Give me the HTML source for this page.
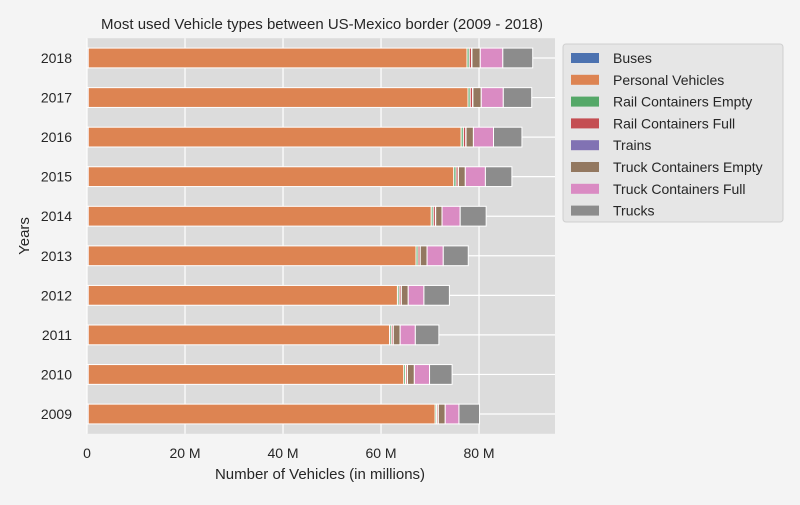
<!DOCTYPE html>
<html><head><meta charset="utf-8"><style>
body{margin:0;background:#f4f4f4;font-family:"Liberation Sans",sans-serif;}
svg text{font-family:"Liberation Sans",sans-serif;fill:#262626;}
</style></head><body>
<svg id="chart" width="800" height="500" xmlns="http://www.w3.org/2000/svg">
<rect width="800" height="500" fill="#f4f4f4"/>
<text x="322" y="29" font-size="15" text-anchor="middle">Most used Vehicle types between US-Mexico border (2009 - 2018)</text>
<g id="plot"></g>
<text x="320" y="479" font-size="15" text-anchor="middle">Number of Vehicles (in millions)</text>
<text transform="translate(29,236) rotate(-90)" font-size="15" text-anchor="middle">Years</text>
<g id="legend"></g>
</svg>
<script>
const years=["2009","2010","2011","2012","2013","2014","2015","2016","2017","2018"];
const seriesNames=["Buses","Personal Vehicles","Rail Containers Empty","Rail Containers Full","Trains","Truck Containers Empty","Truck Containers Full","Trucks"];
const colors=["#4c72b0","#dd8452","#55a868","#c44e52","#8172b3","#937860","#da8bc3","#8c8c8c"];
const buses=[0.25,0.25,0.25,0.25,0.25,0.25,0.25,0.25,0.25,0.25];
const personal=[70.8,64.4,61.5,63.1,66.9,70.0,74.6,76.1,77.5,77.3];
const railEmpty=[0.3,0.35,0.35,0.35,0.4,0.4,0.45,0.45,0.45,0.45];
const railFull=[0.3,0.35,0.35,0.4,0.4,0.45,0.45,0.5,0.5,0.5];
const trains=[0.05,0.05,0.05,0.05,0.05,0.05,0.05,0.05,0.05,0.05];
const truckEmpty=[1.4,1.4,1.4,1.4,1.4,1.3,1.4,1.5,1.7,1.7];
const truckFull=[2.8,3.1,3.1,3.2,3.3,3.7,4.1,4.1,4.5,4.6];
const trucks=[4.2,4.6,4.8,5.2,5.1,5.3,5.4,5.8,5.8,6.1];
const xTicks=[0,20,40,60,80];
const xTickLabels=["0","20 M","40 M","60 M","80 M"];
const series=[buses,personal,railEmpty,railFull,trains,truckEmpty,truckFull,trucks];

const NS="http://www.w3.org/2000/svg";
const L=87,R=555,T=38.2,B=433.8,XMAX=95.5;
const xs=v=>L+v/XMAX*(R-L);
const band=(B-T)/years.length;
const yc=i=>B-band*(i+0.5);
function mk(tag,attrs,parent){const e=document.createElementNS(NS,tag);for(const k in attrs)e.setAttribute(k,attrs[k]);parent.appendChild(e);return e;}
const plot=document.getElementById('plot');
const bg=mk('rect',{x:L,y:T,width:R-L,height:B-T,fill:'#dcdcdc'},plot);


xTicks.forEach((t,i)=>{
  const g=mk('line',{x1:xs(t),x2:xs(t),y1:T,y2:B,stroke:'#fff','stroke-width':1.2},plot);
  
  
  const tx=mk('text',{x:xs(t),y:B+24,'font-size':14,'text-anchor':'middle'},plot);
  tx.textContent=xTickLabels[i];
  
  
});
years.forEach((y,i)=>{
  const g=mk('line',{x1:L,x2:R,y1:yc(i),y2:yc(i),stroke:'#fff','stroke-width':1.2},plot);
  
  
  const tx=mk('text',{x:L-15,y:yc(i)+5,'font-size':14,'text-anchor':'end'},plot);
  tx.textContent=y;
  
  
  let acc=0;
  series.forEach((s,j)=>{
    const v=s[i];
    const r=mk('rect',{x:xs(acc),y:yc(i)-band*0.25,width:xs(acc+v)-xs(acc),height:band*0.5,fill:colors[j],stroke:'#fff','stroke-width':1},plot);
    
    
    acc+=v;
  });
});
const lg=document.getElementById('legend');
const lb=mk('rect',{x:563,y:44,width:220,height:178,rx:3,fill:'#e6e6e6',stroke:'#cfcfcf'},lg);


seriesNames.forEach((n,j)=>{
  const yy=58+j*21.8;
  const sw=mk('rect',{x:571,y:yy-5,width:28,height:10,fill:colors[j]},lg);
  
  
  const t=mk('text',{x:613,y:yy+5,'font-size':14},lg);
  t.textContent=n;
  
  
});
</script>
</body></html>
